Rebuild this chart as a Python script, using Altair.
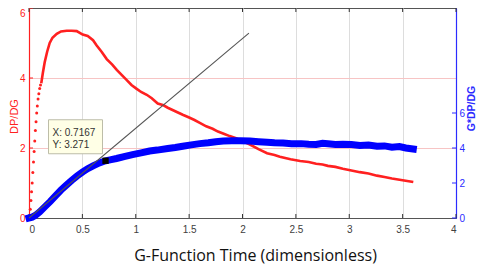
import altair as alt
import pandas as pd

# ---- data ----
red_dot_x = [0.005, 0.012, 0.018, 0.024, 0.030, 0.036, 0.042, 0.048, 0.054, 0.060, 0.066, 0.072, 0.078, 0.085, 0.092, 0.100, 0.108]
red_dot_y = [0.05, 0.25, 0.50, 0.75, 1.00, 1.30, 1.60, 1.90, 2.20, 2.50, 2.75, 3.00, 3.20, 3.40, 3.55, 3.70, 3.80]

red_x = [0.115, 0.13, 0.147, 0.17, 0.194, 0.22, 0.26, 0.30, 0.353, 0.40, 0.447, 0.503, 0.55, 0.60, 0.634, 0.68, 0.728,
         0.78, 0.822, 0.87, 0.916, 0.96, 1.009, 1.05, 1.103, 1.15, 1.206, 1.26, 1.30, 1.37, 1.44, 1.50, 1.55, 1.60, 1.66,
         1.72, 1.77, 1.83, 1.88, 1.94, 2.00, 2.07, 2.15, 2.23, 2.30, 2.35, 2.45, 2.54, 2.62, 2.69, 2.75, 2.80, 2.87,
         2.94, 3.02, 3.10, 3.18, 3.26, 3.33, 3.40, 3.50, 3.60]
red_y = [3.85, 4.15, 4.45, 4.75, 5.00, 5.15, 5.26, 5.33, 5.35, 5.35, 5.34, 5.24, 5.20, 5.08, 4.93, 4.75, 4.54,
         4.38, 4.23, 4.08, 3.94, 3.80, 3.69, 3.60, 3.52, 3.42, 3.27, 3.22, 3.15, 3.05, 2.95, 2.87, 2.80, 2.72, 2.62,
         2.55, 2.47, 2.40, 2.34, 2.28, 2.20, 2.10, 1.97, 1.85, 1.80, 1.75, 1.68, 1.63, 1.60, 1.55, 1.53, 1.49, 1.46,
         1.41, 1.36, 1.31, 1.27, 1.21, 1.17, 1.13, 1.08, 1.03]

blue_x = [0.0, 0.03, 0.06, 0.1, 0.15, 0.2, 0.25, 0.3, 0.35, 0.4, 0.45, 0.5, 0.55, 0.6, 0.66, 0.7167, 0.77, 0.82, 0.9,
          0.97, 1.05, 1.13, 1.2, 1.3, 1.37, 1.44, 1.52, 1.6, 1.68, 1.75, 1.82, 1.9, 1.98, 2.07, 2.15, 2.23, 2.3, 2.38,
          2.46, 2.55, 2.62, 2.69, 2.75, 2.8, 2.87, 2.94, 3.02, 3.1, 3.18, 3.26, 3.33, 3.4, 3.47, 3.53, 3.6]
blue_y = [0.0, 0.05, 0.15, 0.35, 0.65, 0.95, 1.28, 1.60, 1.88, 2.15, 2.40, 2.62, 2.82, 2.98, 3.15, 3.27, 3.34, 3.40,
          3.52, 3.62, 3.72, 3.83, 3.88, 3.97, 4.03, 4.10, 4.18, 4.25, 4.30, 4.36, 4.40, 4.42, 4.42, 4.40, 4.36, 4.33,
          4.30, 4.28, 4.25, 4.25, 4.22, 4.20, 4.27, 4.24, 4.20, 4.22, 4.20, 4.15, 4.17, 4.10, 4.12, 4.05, 4.08, 4.00, 3.94]

tan_x = [0.0, 2.06]
tan_y = [0.0, 5.28]

tip_x = [0.7167]
tip_y = [3.271]

x_ticks = [0, 0.5, 1, 1.5, 2, 2.5, 3, 3.5, 4]
left_ticks = [0, 2, 4, 6]
right_ticks = [0, 2, 4, 6]

RED = "#FF2020"
BLUE = "#2B2BFF"
W, H = 427, 210
FONT = "Liberation Sans"

red_line_df = pd.DataFrame({"x": red_x, "y": red_y})
red_dot_df = pd.DataFrame({"x": red_dot_x, "y": red_dot_y})
blue_df = pd.DataFrame({"x": blue_x, "y": blue_y})
tan_df = pd.DataFrame({"x": tan_x, "y": tan_y})
tip_df = pd.DataFrame({"x": tip_x, "y": tip_y,
                       "lx": [f"X: {tip_x[0]}"], "ly": [f"Y: {tip_y[0]}"]})
xt_df = pd.DataFrame({"x": x_ticks})
lt_df = pd.DataFrame({"t": left_ticks})
rt_df = pd.DataFrame({"t": right_ticks})

xscale = alt.Scale(domain=[0, 4], nice=False)
lscale = alt.Scale(domain=[0, 6], nice=False)
rscale = alt.Scale(domain=[0, 12], nice=False)

x_axis = alt.Axis(
    values=x_ticks, title="G-Function Time (dimensionless)", labelExpr="'' + datum.value",
    tickSize=0, labelPadding=6, labelFont=FONT, labelFontSize=10, labelColor="#404040",
    domainColor="#555555", grid=True,
    gridColor=alt.condition("datum.value > 0 && datum.value < 4", alt.value("#DDDDDD"), alt.value("transparent")),
    titleFont="Open Sans", titleFontSize=16, titleFontWeight="normal", titleColor="#111111",
    titleX=226, titleY=42, titleBaseline="alphabetic",
)

left_axis = alt.Axis(
    values=left_ticks, title="DP/DG", orient="left", tickSize=0, labelPadding=4,
    labelFont=FONT, labelFontSize=10, labelColor=RED, domainColor=RED, domainWidth=1.2,
    labelOffset=alt.condition("datum.value == 6", alt.value(5), alt.value(0)),
    grid=True,
    gridColor=alt.condition("datum.value == 2 || datum.value == 4", alt.value("#F7C4C4"), alt.value("transparent")),
    titleFont=FONT, titleFontSize=11, titleFontWeight="normal", titleColor=RED,
    titleX=-15, titleY=108, titleAlign="center", titleBaseline="middle", titleAngle=270,
)

right_axis = alt.Axis(
    values=right_ticks, title="G*DP/DG", orient="right", tickSize=0, labelPadding=3,
    labelFont=FONT, labelFontSize=10, labelColor=BLUE, domainColor=BLUE, domainWidth=1.2,
    grid=False,
    titleFont=FONT, titleFontSize=10.5, titleFontWeight="bold", titleColor=BLUE,
    titleX=15, titleY=100, titleAlign="center", titleBaseline="middle", titleAngle=270,
)

X = alt.X("x:Q", scale=xscale, axis=x_axis)
YL = alt.Y("y:Q", scale=lscale, axis=left_axis)
YR = alt.Y("y:Q", scale=rscale, axis=right_axis)

red_line = alt.Chart(red_line_df).mark_line(color=RED, strokeWidth=2.6).encode(x=X, y=YL)
red_dots = alt.Chart(red_dot_df).mark_circle(color=RED, size=9, opacity=1).encode(x=X, y=YL)

# inward ticks
top_ticks = alt.Chart(xt_df).mark_rule(color="#333333", strokeWidth=1).encode(
    x=X, y=alt.value(0), y2=alt.value(4))
bot_ticks = alt.Chart(xt_df).mark_rule(color="#333333", strokeWidth=1).encode(
    x=X, y=alt.value(H - 4), y2=alt.value(H))
l_ticks = alt.Chart(lt_df).mark_rule(color=RED, strokeWidth=1).encode(
    y=alt.Y("t:Q", scale=lscale, axis=left_axis), x=alt.value(0), x2=alt.value(4))

left = alt.layer(red_line, red_dots, top_ticks, bot_ticks, l_ticks)

blue_line = alt.Chart(blue_df).mark_line(color="#0000FF", strokeWidth=7, strokeCap="square").encode(x=X, y=YR)
r_ticks = alt.Chart(rt_df).mark_rule(color=BLUE, strokeWidth=1).encode(
    y=alt.Y("t:Q", scale=rscale, axis=right_axis), x=alt.value(W - 4), x2=alt.value(W))
tangent = alt.Chart(tan_df).transform_calculate(yr="datum.y * 2").mark_line(
    color="#555555", strokeWidth=1.1).encode(x=X, y=alt.Y("yr:Q", scale=rscale, axis=right_axis))
tip_box = alt.Chart(tip_df).mark_rect(
    width=54, height=34, xOffset=-30, yOffset=-24, fill="#FFFFE6", stroke="#BDBDA8", strokeWidth=1
).encode(x=X, y=YR)
tip_l1 = alt.Chart(tip_df).mark_text(
    align="left", baseline="middle", dx=-53, dy=-28, font=FONT, fontSize=10, color="#333333"
).encode(x=X, y=YR, text="lx:N")
tip_l2 = alt.Chart(tip_df).mark_text(
    align="left", baseline="middle", dx=-53, dy=-16, font=FONT, fontSize=10, color="#333333"
).encode(x=X, y=YR, text="ly:N")
marker = alt.Chart(tip_df).mark_square(color="black", size=40, opacity=1).encode(x=X, y=YR)

right = alt.layer(blue_line, r_ticks, tangent, tip_box, tip_l1, tip_l2, marker)

chart = alt.layer(left, right).resolve_scale(y="independent").properties(
    width=W, height=H,
    padding={"left": 21, "top": 0, "right": 20, "bottom": 48},
    autosize=alt.AutoSizeParams(type="none"),
).configure_view(stroke="#555555", strokeWidth=1)

chart.save("out.html", embed_options={"renderer": "svg", "actions": False})
